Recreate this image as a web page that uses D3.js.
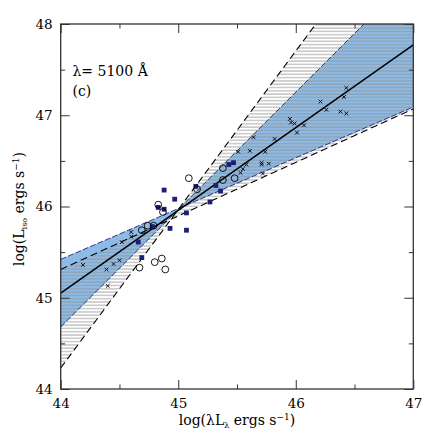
<!DOCTYPE html>
<meta charset="utf-8">
<script src="https://d3js.org/d3.v7.min.js"></script>
<style>
  body { margin: 0; background: #fff; }
  text { font-family: "DejaVu Serif", serif; }
</style>
<body>
<script>

// ---- data ----
var xTicks = [44, 45, 46, 47]
var xMinor = [44.5, 45.5, 46.5]
var yTicks = [44, 45, 46, 47, 48]
var yMinor = [44.5, 45.5, 46.5, 47.5]

// best fit and the two confidence bands (endpoints at x = 44 and x = 47)
var fitLine = [[44, 45.05], [47, 47.77]]
var blueShallow = [[44, 45.42], [47, 47.09]]
var blueSteep = [[44, 44.68], [47, 48.54]]
var hatchShallow = [[44, 45.31], [47, 47.07]]
var hatchSteep = [[44, 44.23], [47, 49.44]]

var crosses = [
  [44.19, 45.36], [44.39, 45.31], [44.40, 45.13], [44.45, 45.37], [44.50, 45.41],
  [44.52, 45.61], [44.60, 45.67], [44.60, 45.72],
  [45.51, 46.60], [45.61, 46.61], [45.64, 46.76], [45.74, 46.60], [45.82, 46.74],
  [45.58, 46.46], [45.55, 46.41], [45.53, 46.37], [45.71, 46.48], [45.71, 46.46],
  [45.77, 46.47], [45.72, 46.36], [45.95, 46.96], [45.96, 46.92], [45.99, 46.91],
  [46.01, 46.81], [46.07, 46.89], [46.21, 47.15], [46.26, 47.06], [46.38, 47.04],
  [46.43, 47.02], [46.41, 47.20], [46.43, 47.30]
]

var circles = [
  [44.67, 45.33], [44.80, 45.39], [44.86, 45.43], [44.89, 45.31], [44.69, 45.74],
  [44.74, 45.79], [44.79, 45.79], [44.83, 46.02], [44.87, 45.94], [45.09, 46.31],
  [45.16, 46.19], [45.38, 46.42], [45.38, 46.29], [45.48, 46.31]
]

var squares = [
  [44.66, 45.61], [44.69, 45.44], [44.78, 45.78], [44.83, 45.99], [44.88, 45.97],
  [44.88, 46.18], [44.97, 46.08], [44.93, 45.76], [45.07, 45.93], [45.07, 45.74],
  [45.15, 46.22], [45.27, 46.05], [45.32, 46.23], [45.36, 46.17], [45.43, 46.46],
  [45.47, 46.48]
]

// ---- layout ----
var width = 436
var height = 436

var x = d3.scaleLinear().domain([44, 47]).range([60.7, 413.3])
var y = d3.scaleLinear().domain([44, 48]).range([389, 24])

var svg = d3.select("body").append("svg")
            .attr("width", width)
            .attr("height", height)

var defs = svg.append("defs")
defs.append("clipPath").attr("id", "plotclip")
    .append("rect")
    .attr("x", x(44)).attr("y", y(48))
    .attr("width", x(47) - x(44)).attr("height", y(44) - y(48))

var pat = defs.append("pattern").attr("id", "hatch")
    .attr("patternUnits", "userSpaceOnUse")
    .attr("width", 6).attr("height", 3.3)
pat.append("rect").attr("x", 0).attr("y", 1.2).attr("width", 6).attr("height", 1)
    .attr("fill", "#8f8f8f").attr("fill-opacity", 0.75)

var plot = svg.append("g").attr("clip-path", "url(#plotclip)")

// bow-tie polygon between two crossing lines
function band(a, b) {
  return [a[0], b[0], b[1], a[1]].map(function(d) { return [x(d[0]), y(d[1])] })
}
var line = d3.line().x(function(d) { return x(d[0]) }).y(function(d) { return y(d[1]) })

plot.append("path")
    .attr("d", "M" + band(blueShallow, blueSteep).join("L") + "Z")
    .attr("fill", "#8dbbe6")

plot.append("path")
    .attr("d", "M" + band(hatchShallow, hatchSteep).join("L") + "Z")
    .attr("fill", "url(#hatch)")

plot.selectAll(".blueedge").data([blueShallow, blueSteep]).enter().append("path")
    .attr("class", "blueedge")
    .attr("d", line)
    .attr("fill", "none").attr("stroke", "#2a3585").attr("stroke-width", 1)
    .attr("stroke-dasharray", "6,2")

plot.selectAll(".hatchedge").data([hatchShallow, hatchSteep]).enter().append("path")
    .attr("class", "hatchedge")
    .attr("d", line)
    .attr("fill", "none").attr("stroke", "#000").attr("stroke-width", 1.1)
    .attr("stroke-dasharray", "7,4")

plot.append("path")
    .attr("d", line(fitLine))
    .attr("fill", "none").attr("stroke", "#000").attr("stroke-width", 1.5)

// points
plot.selectAll(".sq").data(squares).enter().append("rect")
    .attr("class", "sq")
    .attr("x", function(d) { return x(d[0]) - 2.4 })
    .attr("y", function(d) { return y(d[1]) - 2.4 })
    .attr("width", 4.8).attr("height", 4.8)
    .attr("fill", "#1c1f74")

plot.selectAll(".ci").data(circles).enter().append("circle")
    .attr("class", "ci")
    .attr("cx", function(d) { return x(d[0]) })
    .attr("cy", function(d) { return y(d[1]) })
    .attr("r", 3.4)
    .attr("fill", "none").attr("stroke", "#000").attr("stroke-width", 0.9)

var xsym = d3.symbol().type(d3.symbolX).size(11)
plot.selectAll(".cr").data(crosses).enter().append("path")
    .attr("class", "cr")
    .attr("transform", function(d) { return "translate(" + x(d[0]) + "," + y(d[1]) + ")" })
    .attr("d", xsym)
    .attr("fill", "none").attr("stroke", "#000").attr("stroke-width", 0.9)

// ---- axes: ticks on all four sides, pointing in ----
function styleAxis(g) {
  g.select(".domain").remove()
  g.selectAll("line").attr("stroke", "#333").attr("stroke-width", 1)
  g.selectAll("text").attr("fill", "#000").style("font-size", "13.5px")
    .style("font-family", "'DejaVu Serif', serif")
}

svg.append("g").attr("transform", "translate(0," + y(44) + ")")
   .call(d3.axisBottom(x).tickValues(xTicks).tickSizeInner(-9).tickSizeOuter(0).tickPadding(9).tickFormat(d3.format("d")))
   .call(styleAxis)
svg.append("g").attr("transform", "translate(0," + y(44) + ")")
   .call(d3.axisBottom(x).tickValues(xMinor).tickSizeInner(-4.5).tickSizeOuter(0).tickFormat(""))
   .call(styleAxis)
svg.append("g").attr("transform", "translate(0," + y(48) + ")")
   .call(d3.axisTop(x).tickValues(xTicks).tickSizeInner(-9).tickSizeOuter(0).tickFormat(""))
   .call(styleAxis)
svg.append("g").attr("transform", "translate(0," + y(48) + ")")
   .call(d3.axisTop(x).tickValues(xMinor).tickSizeInner(-4.5).tickSizeOuter(0).tickFormat(""))
   .call(styleAxis)

svg.append("g").attr("transform", "translate(" + x(44) + ",0)")
   .call(d3.axisLeft(y).tickValues(yTicks).tickSizeInner(-9).tickSizeOuter(0).tickPadding(8).tickFormat(d3.format("d")))
   .call(styleAxis)
svg.append("g").attr("transform", "translate(" + x(44) + ",0)")
   .call(d3.axisLeft(y).tickValues(yMinor).tickSizeInner(-4.5).tickSizeOuter(0).tickFormat(""))
   .call(styleAxis)
svg.append("g").attr("transform", "translate(" + x(47) + ",0)")
   .call(d3.axisRight(y).tickValues(yTicks).tickSizeInner(-9).tickSizeOuter(0).tickFormat(""))
   .call(styleAxis)
svg.append("g").attr("transform", "translate(" + x(47) + ",0)")
   .call(d3.axisRight(y).tickValues(yMinor).tickSizeInner(-4.5).tickSizeOuter(0).tickFormat(""))
   .call(styleAxis)

svg.append("rect")
   .attr("x", x(44)).attr("y", y(48))
   .attr("width", x(47) - x(44)).attr("height", y(44) - y(48))
   .attr("fill", "none").attr("stroke", "#333").attr("stroke-width", 1.3)

// ---- labels ----
svg.append("text")
   .attr("x", 72.5).attr("y", 76)
   .style("font-size", "14px")
   .text("λ= 5100 Å")
svg.append("text")
   .attr("x", 72.5).attr("y", 96)
   .style("font-size", "14px")
   .text("(c)")

var xl = svg.append("text")
   .attr("x", (x(44) + x(47)) / 2).attr("y", 425)
   .style("text-anchor", "middle").style("font-size", "14px")
xl.append("tspan").text("log(λL")
xl.append("tspan").attr("dy", 3).style("font-size", "8px").text("λ")
xl.append("tspan").attr("dy", -3).text(" ergs s")
xl.append("tspan").attr("dy", -5).style("font-size", "9px").text("−1")
xl.append("tspan").attr("dy", 5).text(")")

var yl = svg.append("text")
   .attr("transform", "translate(24," + 209 + ") rotate(-90)")
   .style("text-anchor", "middle").style("font-size", "14px")
yl.append("tspan").text("log(L")
yl.append("tspan").attr("dy", 3).style("font-size", "8px").text("iso")
yl.append("tspan").attr("dy", -3).text(" ergs s")
yl.append("tspan").attr("dy", -5).style("font-size", "9px").text("−1")
yl.append("tspan").attr("dy", 5).text(")")

</script>
</body>
